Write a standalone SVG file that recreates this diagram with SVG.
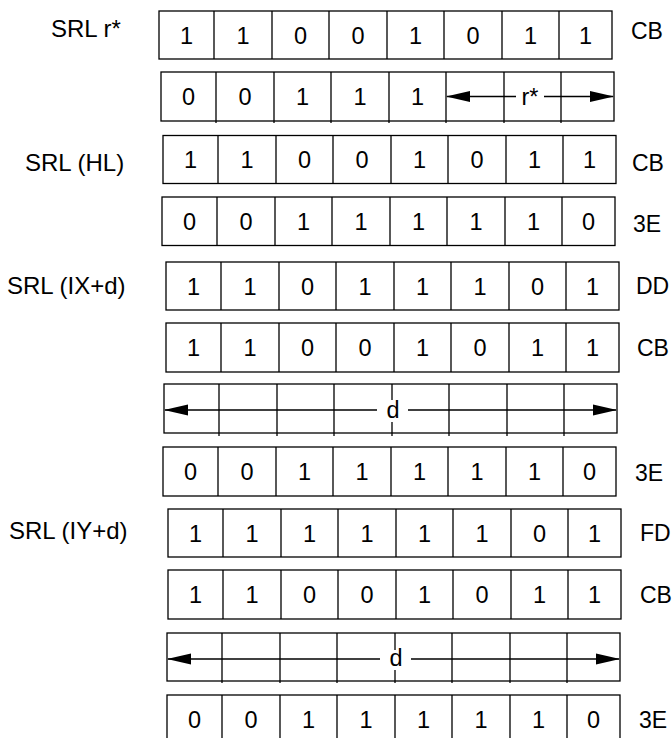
<svg xmlns="http://www.w3.org/2000/svg" width="672" height="738" viewBox="0 0 672 738">
<style>
text{font-family:"Liberation Sans",Arial,sans-serif;fill:#000}
.b{font-size:23.5px;text-anchor:middle}
.lab{font-size:24px}
.hx{font-size:23px}
.box{fill:none;stroke:#000;stroke-width:1.3}
.sep{stroke:#000;stroke-width:1.3}
.arr{stroke:#000;stroke-width:1.3;fill:none}
</style>
<defs>
<marker id="ah" markerUnits="userSpaceOnUse" markerWidth="24" markerHeight="13" refX="23" refY="6.5" orient="auto-start-reverse" viewBox="0 0 24 13">
<path d="M0,1 L24,6.5 L0,12 Z" fill="#000"/>
</marker>
</defs>
<rect width="672" height="738" fill="#fff"/>

<g id="labels">
<text class="lab" x="51" y="37">SRL r*</text>
<text class="lab" x="25" y="171">SRL (HL)</text>
<text class="lab" x="7" y="294">SRL (IX+d)</text>
<text class="lab" x="9" y="539">SRL (IY+d)</text>
</g>

<g id="row1">
<rect class="box" x="159" y="11" width="453" height="48"/>
<path class="sep" d="M214,11V59M272,11V59M329,11V59M387,11V59M444,11V59M502,11V59M559,11V59"/>
<text class="b" x="186.5" y="44">1</text><text class="b" x="243" y="44">1</text><text class="b" x="300.5" y="44">0</text><text class="b" x="358" y="44">0</text><text class="b" x="415.5" y="44">1</text><text class="b" x="473" y="44">0</text><text class="b" x="530.5" y="44">1</text><text class="b" x="585.5" y="44">1</text>
<text class="hx" x="631" y="39">CB</text>
</g>

<g id="row2">
<rect class="box" x="161" y="72" width="453" height="49"/>
<path class="sep" d="M216,72V123M274,72V123M331,72V123M389,72V123M446,72V123M504,72V123M561,72V123"/>
<text class="b" x="188.5" y="105">0</text><text class="b" x="245" y="105">0</text><text class="b" x="302.5" y="105">1</text><text class="b" x="360" y="105">1</text><text class="b" x="417.5" y="105">1</text>
<text class="b" x="530" y="105">r*</text>
</g>

<g id="row3">
<rect class="box" x="163" y="135.5" width="453" height="48"/>
<path class="sep" d="M218,135.5V183.5M276,135.5V183.5M333,135.5V183.5M391,135.5V183.5M448,135.5V183.5M506,135.5V183.5M563,135.5V183.5"/>
<text class="b" x="190.5" y="168">1</text><text class="b" x="247" y="168">1</text><text class="b" x="304.5" y="168">0</text><text class="b" x="362" y="168">0</text><text class="b" x="419.5" y="168">1</text><text class="b" x="477" y="168">0</text><text class="b" x="534.5" y="168">1</text><text class="b" x="589.5" y="168">1</text>
<text class="hx" x="632" y="171">CB</text>
</g>

<g id="row4">
<rect class="box" x="162" y="197" width="453" height="48.5"/>
<path class="sep" d="M217,197V245.5M275,197V245.5M332,197V245.5M390,197V245.5M447,197V245.5M505,197V245.5M562,197V245.5"/>
<text class="b" x="189.5" y="230">0</text><text class="b" x="246" y="230">0</text><text class="b" x="303.5" y="230">1</text><text class="b" x="361" y="230">1</text><text class="b" x="418.5" y="230">1</text><text class="b" x="476" y="230">1</text><text class="b" x="533.5" y="230">1</text><text class="b" x="588.5" y="230">0</text>
<text class="hx" x="633" y="232">3E</text>
</g>

<g id="row5">
<rect class="box" x="166" y="262" width="453" height="48"/>
<path class="sep" d="M221,262V310M279,262V310M336,262V310M394,262V310M451,262V310M509,262V310M566,262V310"/>
<text class="b" x="193.5" y="294.5">1</text><text class="b" x="250" y="294.5">1</text><text class="b" x="307.5" y="294.5">0</text><text class="b" x="365" y="294.5">1</text><text class="b" x="422.5" y="294.5">1</text><text class="b" x="480" y="294.5">1</text><text class="b" x="537.5" y="294.5">0</text><text class="b" x="592.5" y="294.5">1</text>
<text class="hx" x="636" y="294">DD</text>
</g>

<g id="row6">
<rect class="box" x="166" y="323" width="453" height="49"/>
<path class="sep" d="M221,323V372M279,323V372M336,323V372M394,323V372M451,323V372M509,323V372M566,323V372"/>
<text class="b" x="193.5" y="356">1</text><text class="b" x="250" y="356">1</text><text class="b" x="307.5" y="356">0</text><text class="b" x="365" y="356">0</text><text class="b" x="422.5" y="356">1</text><text class="b" x="480" y="356">0</text><text class="b" x="537.5" y="356">1</text><text class="b" x="592.5" y="356">1</text>
<text class="hx" x="637" y="356">CB</text>
</g>

<g id="row7">
<rect class="box" x="164" y="384" width="453" height="49"/>
<path class="sep" d="M219,384V436M277,384V436M334,384V436M392,384V400M392,422V436M449,384V436M507,384V436M564,384V436"/>
<text class="b" x="393" y="418">d</text>
</g>

<g id="row8">
<rect class="box" x="163" y="447" width="453" height="49"/>
<path class="sep" d="M218,447V496M276,447V496M333,447V496M391,447V496M448,447V496M506,447V496M563,447V496"/>
<text class="b" x="190.5" y="480">0</text><text class="b" x="247" y="480">0</text><text class="b" x="304.5" y="480">1</text><text class="b" x="362" y="480">1</text><text class="b" x="419.5" y="480">1</text><text class="b" x="477" y="480">1</text><text class="b" x="534.5" y="480">1</text><text class="b" x="589.5" y="480">0</text>
<text class="hx" x="635" y="481">3E</text>
</g>

<g id="row9">
<rect class="box" x="168" y="509" width="453" height="48"/>
<path class="sep" d="M223,509V557M281,509V557M338,509V557M396,509V557M453,509V557M511,509V557M568,509V557"/>
<text class="b" x="195.5" y="541.5">1</text><text class="b" x="252" y="541.5">1</text><text class="b" x="309.5" y="541.5">1</text><text class="b" x="367" y="541.5">1</text><text class="b" x="424.5" y="541.5">1</text><text class="b" x="482" y="541.5">1</text><text class="b" x="539.5" y="541.5">0</text><text class="b" x="594.5" y="541.5">1</text>
<text class="hx" x="640" y="541">FD</text>
</g>

<g id="row10">
<rect class="box" x="168" y="570" width="453" height="49"/>
<path class="sep" d="M223,570V619M281,570V619M338,570V619M396,570V619M453,570V619M511,570V619M568,570V619"/>
<text class="b" x="195.5" y="603">1</text><text class="b" x="252" y="603">1</text><text class="b" x="309.5" y="603">0</text><text class="b" x="367" y="603">0</text><text class="b" x="424.5" y="603">1</text><text class="b" x="482" y="603">0</text><text class="b" x="539.5" y="603">1</text><text class="b" x="594.5" y="603">1</text>
<text class="hx" x="640" y="603">CB</text>
</g>

<g id="row11">
<rect class="box" x="167" y="633" width="453" height="48"/>
<path class="sep" d="M222,633V683M280,633V683M337,633V683M395,633V650M395,670V683M452,633V683M510,633V683M567,633V683"/>
<text class="b" x="396" y="666">d</text>
</g>

<g id="row12">
<rect class="box" x="167" y="695" width="453" height="50"/>
<path class="sep" d="M222,695V745M280,695V745M337,695V745M395,695V745M452,695V745M510,695V745M567,695V745"/>
<text class="b" x="194.5" y="727.5">0</text><text class="b" x="251" y="727.5">0</text><text class="b" x="308.5" y="727.5">1</text><text class="b" x="366" y="727.5">1</text><text class="b" x="423.5" y="727.5">1</text><text class="b" x="481" y="727.5">1</text><text class="b" x="538.5" y="727.5">1</text><text class="b" x="593.5" y="727.5">0</text>
<text class="hx" x="639" y="728">3E</text>
</g>

<g id="connectors">
<path class="arr" d="M447,96.5H516" marker-start="url(#ah)"/>
<path class="arr" d="M544,96.5H613" marker-end="url(#ah)"/>
<path class="arr" d="M165,410H377" marker-start="url(#ah)"/>
<path class="arr" d="M408,410H616" marker-end="url(#ah)"/>
<path class="arr" d="M168,659H380" marker-start="url(#ah)"/>
<path class="arr" d="M411,659H619" marker-end="url(#ah)"/>
</g>
</svg>
